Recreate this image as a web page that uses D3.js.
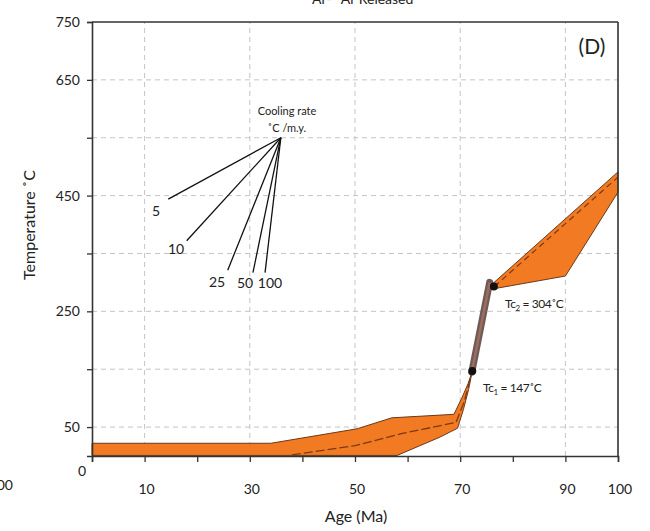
<!DOCTYPE html>
<html><head><meta charset="utf-8">
<script src="https://cdn.jsdelivr.net/npm/d3@7"></script>
<style>body{margin:0;background:#fff}svg{display:block}text{font-family:Lato,"Open Sans",sans-serif;fill:#222}</style>
</head><body>
<svg id="c" width="650" height="531"></svg>
<script>
// ---- data ----
const xTicks = [0,10,20,30,40,50,60,70,80,90,100];
const xTickLabels = [10,30,50,70,90,100];
const xGrid = [10,30,50,70,90];
const yTicks = [50,150,250,350,450,550,650,750];
const yTickLabels = [50,250,450,650,750];
const yGrid = [50,150,250,350,450,550,650];
// lower cooling envelope (age Ma, temperature C)
const lowTop = [[0,22],[34,22],[50.4,47],[57,66],[68.8,72],[70.3,100],[71.5,125],[72.3,147]];
const lowBottom = [[72.3,147],[71.6,115],[70.6,80],[69.5,48],[66,32],[58,1],[0,1]];
const lowMid = [[38,2],[50,18],[59,39],[69.2,58],[70.8,95],[72.3,147]];
// upper envelope
const upTop = [[76.2,298],[100,491]];
const upBottom = [[100,456],[90,311],[77,290]];
const upMid = [[76.5,293],[100,482]];
// closure temperatures
const tcBar = [[72.2,145],[75.6,300]];
const tcPoints = [{age:72.3,temp:147,label:"1",value:"147"},{age:76.4,temp:293,label:"2",value:"304"}];
// cooling-rate fan
const fanOrigin = [35.9,550];
const fanRates = ["5","10","25","50","100"];
const fanEnds = [[14.5,444],[18.0,372],[25.8,321],[30.6,317],[32.9,317]];

const svg = d3.select("#c");
const x = d3.scaleLinear().domain([0,100]).range([92,618]);
const y = d3.scaleLinear().domain([0,750]).range([456,22]);

// grid
svg.append("g").selectAll("line").data(yGrid).join("line")
  .attr("x1",x(0)).attr("x2",x(100)).attr("y1",d=>y(d)).attr("y2",d=>y(d))
  .attr("stroke","#c4c4c4").attr("stroke-width",1).attr("stroke-dasharray","5,4");
svg.append("g").selectAll("line").data(xGrid).join("line")
  .attr("x1",d=>x(d)).attr("x2",d=>x(d)).attr("y1",y(0)).attr("y2",y(750))
  .attr("stroke","#c4c4c4").attr("stroke-width",1).attr("stroke-dasharray","5,4");

const line = d3.line().x(d=>x(d[0])).y(d=>y(d[1]));
const orange = "#f27a22", edge = "#6a3a1c";

// envelopes
svg.append("path").attr("d", line(lowTop.concat(lowBottom))+"Z")
  .attr("fill",orange).attr("stroke",edge).attr("stroke-width",1).attr("stroke-linejoin","round");
svg.append("path").attr("d", line(lowMid)).attr("fill","none")
  .attr("stroke","#7a3a14").attr("stroke-width",1.3).attr("stroke-dasharray","9,3");
svg.append("path").attr("d", line(upTop.concat(upBottom))+"Z")
  .attr("fill",orange).attr("stroke",edge).attr("stroke-width",1).attr("stroke-linejoin","round");
svg.append("path").attr("d", line(upMid)).attr("fill","none")
  .attr("stroke","#7a3a14").attr("stroke-width",1.2).attr("stroke-dasharray","6,4");

// Tc bar
svg.append("path").attr("d", line(tcBar)).attr("stroke","#5e4a47").attr("stroke-width",7).attr("stroke-linecap","round").attr("opacity",0.9);
svg.append("path").attr("d", line(tcBar)).attr("stroke","#a5705f").attr("stroke-width",2.5).attr("opacity",0.9);
svg.selectAll("circle.tc").data(tcPoints).join("circle").attr("class","tc")
  .attr("cx",d=>x(d.age)).attr("cy",d=>y(d.temp)).attr("r",4).attr("fill","#111");
const tcT = svg.selectAll("text.tc").data(tcPoints).join("text").attr("class","tc")
  .attr("x",(d,i)=>i===0?483:505).attr("y",(d,i)=>i===0?392:308)
  .attr("font-size",12).attr("letter-spacing","-0.4");
tcT.append("tspan").text("Tc");
tcT.append("tspan").attr("font-size",8).attr("dy",3).text(d=>d.label);
tcT.append("tspan").attr("dy",-3).text(d=>" = "+d.value+"˚C");

// fan
svg.append("g").selectAll("line").data(fanEnds).join("line")
  .attr("x1",x(fanOrigin[0])).attr("y1",y(fanOrigin[1]))
  .attr("x2",d=>x(d[0])).attr("y2",d=>y(d[1]))
  .attr("stroke","#111").attr("stroke-width",1.3);
const fanLabelPos = [[156,216],[176,254],[217,287],[245,288],[270,288]];
svg.append("g").selectAll("text").data(fanRates).join("text")
  .attr("x",(d,i)=>fanLabelPos[i][0]).attr("y",(d,i)=>fanLabelPos[i][1])
  .attr("text-anchor","middle").attr("font-size",14).text(d=>d);
svg.append("text").attr("x",287).attr("y",115).attr("text-anchor","middle").attr("font-size",11).text("Cooling rate");
svg.append("text").attr("x",287).attr("y",132).attr("text-anchor","middle").attr("font-size",11).text("˚C /m.y.");

// axes
const yAxis = svg.append("g").attr("transform",`translate(${x(0)},0)`)
  .call(d3.axisLeft(y).tickValues(yTicks).tickSize(5).tickFormat(d=>yTickLabels.includes(d)?d:""));
const xAxis = svg.append("g").attr("transform",`translate(0,${y(0)})`)
  .call(d3.axisBottom(x).tickValues(xTicks).tickSize(6).tickFormat(""));
[yAxis,xAxis].forEach(a=>{a.select(".domain").attr("stroke","#333").attr("stroke-width",1.6);
  a.selectAll(".tick line").attr("stroke","#333").attr("stroke-width",1.3);});
yAxis.selectAll(".tick text").attr("font-size",14).attr("font-family","Lato,sans-serif").attr("fill","#222").attr("x",-12);
svg.append("g").selectAll("text").data(xTickLabels).join("text")
  .attr("x",d=>x(d)+2).attr("y",494).attr("text-anchor","middle").attr("font-size",14).text(d=>d);
svg.append("text").attr("x",86).attr("y",476).attr("text-anchor","end").attr("font-size",14).text("0");
// box
svg.append("line").attr("x1",x(0)).attr("x2",x(100)).attr("y1",y(750)).attr("y2",y(750)).attr("stroke","#333").attr("stroke-width",1.6);
svg.append("line").attr("x1",x(100)).attr("x2",x(100)).attr("y1",y(750)).attr("y2",y(0)).attr("stroke","#333").attr("stroke-width",1.6);

// labels
svg.append("text").attr("transform","translate(35,225) rotate(-90)").attr("text-anchor","middle").attr("font-size",16).text("Temperature ˚C");
svg.append("text").attr("x",356).attr("y",522).attr("text-anchor","middle").attr("font-size",16).text("Age (Ma)");
svg.append("text").attr("x",592).attr("y",54).attr("text-anchor","middle").attr("font-size",21).text("(D)");
svg.append("text").attr("x",358).attr("y",4).attr("text-anchor","middle").attr("font-size",14).text("⁴⁰Ar-³⁹Ar Released");
svg.append("text").attr("x",13).attr("y",490).attr("text-anchor","end").attr("font-size",14).text("100");
</script>
</body></html>
